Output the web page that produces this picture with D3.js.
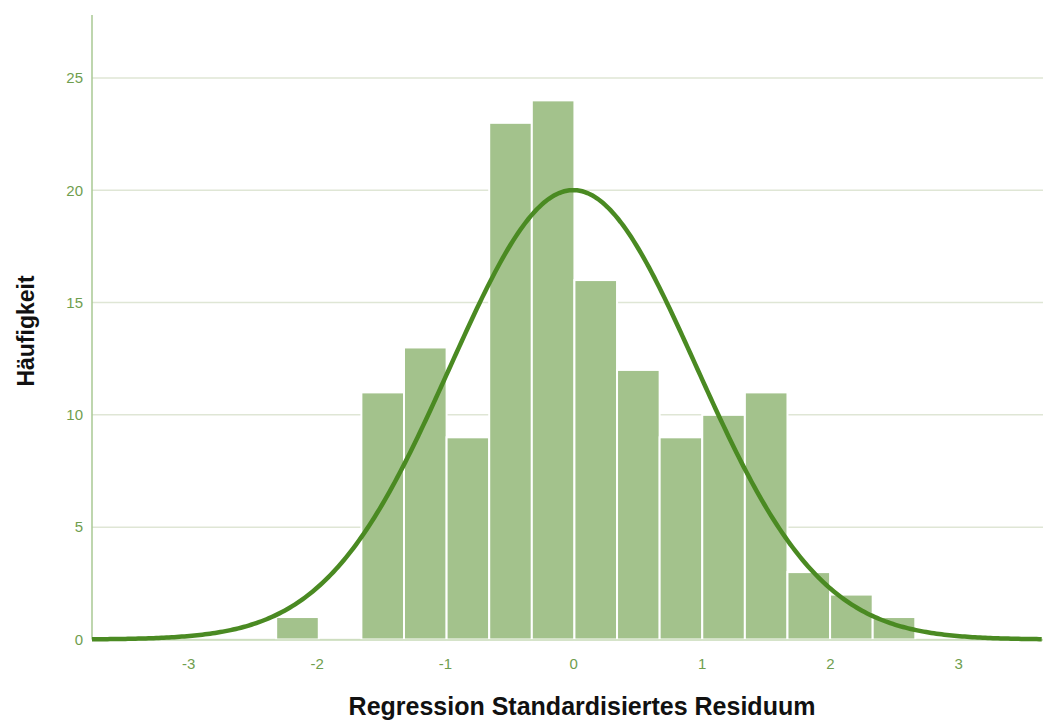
<!DOCTYPE html>
<html>
<head>
<meta charset="utf-8">
<script src="https://cdn.jsdelivr.net/npm/d3@7"></script>
<style>
  body { margin: 0; background: #fff; }
  svg { display: block; }
  .tick text { font-family: "Liberation Sans", Arial, sans-serif; }
</style>
</head>
<body>
<div id="chart"></div>
<script>
// histogram bins (lower edge of first bin, bin width, counts)
var binStart = -2.315;
var binWidth = 0.332;
var counts = [1, 0, 11, 13, 9, 23, 24, 16, 12, 9, 10, 11, 3, 2, 1];

// normal curve parameters
var mean = 0;
var stdDev = 0.96;
var n = 145;

var xTicks = [-3, -2, -1, 0, 1, 2, 3];
var yTicks = [0, 5, 10, 15, 20, 25];

var xTitle = "Regression Standardisiertes Residuum";
var yTitle = "Häufigkeit";

var width = 1043, height = 722;
var margin = {top: 15, right: 0, bottom: 82, left: 92};

var svg = d3.select("#chart").append("svg")
    .attr("width", width)
    .attr("height", height);

var x = d3.scaleLinear()
    .domain([-3.75, 3.66])
    .range([margin.left, width - margin.right]);

var y = d3.scaleLinear()
    .domain([0, 27.8])
    .range([639.5, margin.top]);

// grid lines
svg.append("g")
    .selectAll("line")
    .data(yTicks)
    .enter().append("line")
    .attr("x1", x.range()[0])
    .attr("x2", x.range()[1])
    .attr("y1", function(d) { return y(d); })
    .attr("y2", function(d) { return y(d); })
    .attr("stroke", "#dfe6d5")
    .attr("stroke-width", 1.5);

// bars
var bins = counts.map(function(c, i) {
    return {x0: binStart + i * binWidth, x1: binStart + (i + 1) * binWidth, count: c};
});

svg.append("g")
    .selectAll("rect")
    .data(bins.filter(function(d) { return d.count > 0; }))
    .enter().append("rect")
    .attr("x", function(d) { return x(d.x0); })
    .attr("width", function(d) { return x(d.x1) - x(d.x0); })
    .attr("y", function(d) { return y(d.count); })
    .attr("height", function(d) { return y(0) - y(d.count); })
    .attr("fill", "#a3c28c")
    .attr("stroke", "#ffffff")
    .attr("stroke-width", 2);

// y axis
var yAxis = d3.axisLeft(y)
    .tickValues(yTicks)
    .tickSize(0)
    .tickPadding(9);

var gy = svg.append("g")
    .attr("transform", "translate(" + margin.left + ",0)")
    .call(yAxis);
gy.select(".domain").remove();
gy.selectAll("text")
    .attr("fill", "#6f9e4e")
    .style("font-size", "15px");

svg.append("line")
    .attr("x1", margin.left).attr("x2", margin.left)
    .attr("y1", margin.top).attr("y2", y(0))
    .attr("stroke", "#a9c993")
    .attr("stroke-width", 1.5);

// x axis
var xAxis = d3.axisBottom(x)
    .tickValues(xTicks)
    .tickSize(0)
    .tickPadding(19)
    .tickFormat(function(d) { return String(d); });

var gx = svg.append("g")
    .attr("transform", "translate(0," + y(0) + ")")
    .call(xAxis);
gx.select(".domain").attr("stroke", "#c9dbb9").attr("stroke-width", 1.5);
gx.selectAll("text")
    .attr("fill", "#6f9e4e")
    .style("font-size", "15px");

// normal curve
var xs = d3.range(x.domain()[0], x.domain()[1] + 0.01, 0.02);
var curve = xs.map(function(v) {
    var z = (v - mean) / stdDev;
    return [v, n * binWidth / (stdDev * Math.sqrt(2 * Math.PI)) * Math.exp(-0.5 * z * z)];
});

svg.append("path")
    .datum(curve)
    .attr("fill", "none")
    .attr("stroke", "#4a8a22")
    .attr("stroke-width", 4.5)
    .attr("d", d3.line()
        .x(function(d) { return x(d[0]); })
        .y(function(d) { return y(d[1]); }));

// axis titles
svg.append("text")
    .attr("x", 582)
    .attr("y", 715)
    .attr("text-anchor", "middle")
    .style("font-family", "Liberation Sans, Arial, sans-serif")
    .style("font-weight", "bold")
    .style("font-size", "25px")
    .attr("fill", "#111")
    .text(xTitle);

svg.append("text")
    .attr("transform", "translate(34,331) rotate(-90)")
    .attr("text-anchor", "middle")
    .style("font-family", "Liberation Sans, Arial, sans-serif")
    .style("font-weight", "bold")
    .style("font-size", "23px")
    .attr("fill", "#111")
    .text(yTitle);
</script>
</body>
</html>
